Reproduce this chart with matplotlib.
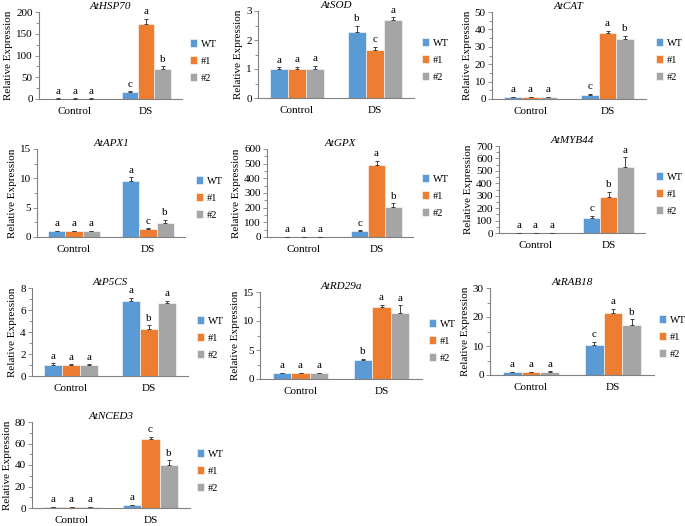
import numpy as np
import matplotlib
matplotlib.use('Agg')
import matplotlib.pyplot as plt
from matplotlib.ticker import MultipleLocator, AutoMinorLocator

plt.rcParams['font.family'] = ['Liberation Serif', 'DejaVu Serif']
plt.rcParams['font.size'] = 8

# --- Data ---
groups = ['Control', 'DS']
lines = ['WT', '#1', '#2']
colors = ['#5B9BD5', '#ED7D31', '#A5A5A5']

genes = ['AtHSP70', 'AtSOD', 'AtCAT', 'AtAPX1', 'AtGPX', 'AtMYB44',
         'AtP5CS', 'AtRD29a', 'AtRAB18', 'AtNCED3']

# each gene: [[WT, #1, #2] for Control, [WT, #1, #2] for DS]
hsp70 = [[1, 1, 1], [16, 173, 70]]
hsp70_err = [[0.5, 0.5, 0.5], [1.5, 12, 5]]
sod = [[1, 1, 1], [2.28, 1.65, 2.7]]
sod_err = [[0.06, 0.08, 0.11], [0.22, 0.12, 0.08]]
cat = [[0.9, 0.9, 0.9], [2.5, 37.8, 34.5]]
cat_err = [[0.4, 0.2, 0.2], [0.4, 1.5, 1.8]]
apx1 = [[1, 1, 1], [9.6, 1.3, 2.4]]
apx1_err = [[0.1, 0.1, 0.1], [0.6, 0.2, 0.5]]
gpx = [[1, 1, 1], [40, 490, 205]]
gpx_err = [[1, 1, 1], [6, 30, 25]]
myb44 = [[1, 1, 1], [120, 290, 530]]
myb44_err = [[1, 1, 1], [20, 40, 80]]
p5cs = [[1, 1, 1], [6.85, 4.3, 6.6]]
p5cs_err = [[0.15, 0.05, 0.05], [0.25, 0.3, 0.25]]
rd29a = [[1, 1, 1], [3.2, 12.5, 11.3]]
rd29a_err = [[0.1, 0.1, 0.1], [0.3, 0.3, 1.4]]
rab18 = [[1, 1, 1], [10.4, 21.4, 17.2]]
rab18_err = [[0.2, 0.2, 0.3], [1.0, 1.5, 2.0]]
nced3 = [[1, 1, 1], [2.5, 64, 40]]
nced3_err = [[0.3, 0.3, 0.3], [0.5, 2.5, 4.5]]

values = [hsp70, sod, cat, apx1, gpx, myb44, p5cs, rd29a, rab18, nced3]
errors = [hsp70_err, sod_err, cat_err, apx1_err, gpx_err, myb44_err,
          p5cs_err, rd29a_err, rab18_err, nced3_err]

letters = [
    [['a', 'a', 'a'], ['c', 'a', 'b']],
    [['a', 'a', 'a'], ['b', 'c', 'a']],
    [['a', 'a', 'a'], ['c', 'a', 'b']],
    [['a', 'a', 'a'], ['a', 'c', 'b']],
    [['a', 'a', 'a'], ['c', 'a', 'b']],
    [['a', 'a', 'a'], ['c', 'b', 'a']],
    [['a', 'a', 'a'], ['a', 'b', 'a']],
    [['a', 'a', 'a'], ['b', 'a', 'a']],
    [['a', 'a', 'a'], ['c', 'a', 'b']],
    [['a', 'a', 'a'], ['a', 'c', 'b']],
]

ymax = [200, 3, 50, 15, 600, 700, 8, 15, 30, 80]
ystep = [50, 1, 10, 5, 100, 100, 2, 5, 10, 20]

# panel boxes in pixels: left, top, width, bottom, legend x, legend center y
W, H = 685, 526
boxes = [
    (39, 12, 143, 99, 190, 61),
    (258, 11, 156, 98, 422, 60),
    (492, 12, 154, 99, 656, 60),
    (37, 149, 148, 237, 196, 198),
    (267, 149, 146, 237, 422, 196),
    (499, 146, 146, 233, 656, 194),
    (32, 288, 156, 376, 197, 338),
    (260, 292, 162, 379, 429, 341),
    (490, 288, 164, 375, 659, 337),
    (32, 422, 158, 508, 197, 471),
]

fig = plt.figure(figsize=(W / 100, H / 100), dpi=100)

bw = 0.23
x = np.arange(len(groups))
for i, gene in enumerate(genes):
    left, top, width, bottom, lx, ly = boxes[i]
    ax = fig.add_axes([left / W, 1 - bottom / H, width / W, (bottom - top) / H])
    vals = np.array(values[i])
    errs = np.array(errors[i])
    for j, lab in enumerate(lines):
        xs = x + (j - 1) * bw
        ax.bar(xs, vals[:, j], bw, color=colors[j], edgecolor='white',
               linewidth=0.4, label=lab, zorder=2)
        ax.errorbar(xs, vals[:, j], yerr=[np.zeros(2), errs[:, j]], fmt='none',
                    ecolor='#404040', elinewidth=0.7, capsize=1.5, capthick=0.7, zorder=3)
        for g in range(len(groups)):
            ax.text(xs[g], vals[g, j] + errs[g, j] + ymax[i] * 0.03, letters[i][g][j],
                    ha='center', va='bottom', fontsize=8)
    ax.set_xlim(-0.5, 1.5)
    ax.set_ylim(0, ymax[i])
    ax.yaxis.set_major_locator(MultipleLocator(ystep[i]))
    ax.yaxis.set_minor_locator(AutoMinorLocator(2))
    ax.set_xticks(x)
    ax.set_xticklabels(groups)
    ax.tick_params(axis='x', length=0, pad=6, labelsize=8)
    ax.tick_params(axis='y', which='major', length=3, width=0.6, color='#808080',
                   pad=1.5, labelsize=8)
    ax.tick_params(axis='y', which='minor', length=2, width=0.6, color='#808080')
    for s in ['top', 'right']:
        ax.spines[s].set_visible(False)
    for s in ['left', 'bottom']:
        ax.spines[s].set_color('#808080')
        ax.spines[s].set_linewidth(0.8)
    ax.set_ylabel('Relative Expression', fontsize=8, labelpad=2)
    ax.set_title(gene, fontsize=8, style='italic', pad=2)
    ax.legend(loc='center left', bbox_to_anchor=(lx / W, 1 - ly / H),
              bbox_transform=fig.transFigure, frameon=False, fontsize=7.5,
              handlelength=0.7, handleheight=0.7, handletextpad=0.35,
              labelspacing=0.75, borderpad=0, borderaxespad=0)

fig.savefig('out.png', dpi=100)
